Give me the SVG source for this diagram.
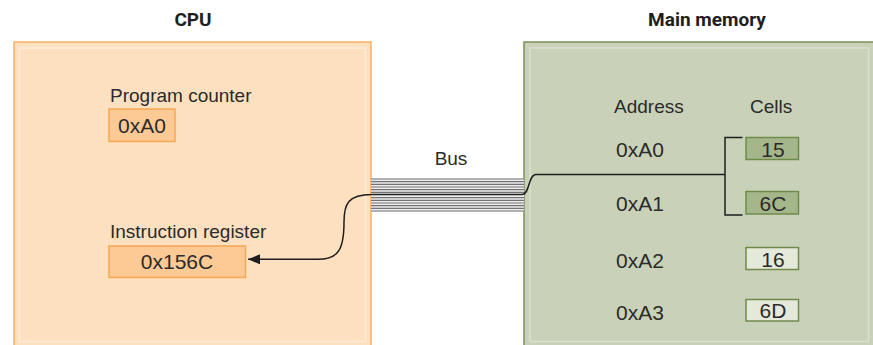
<svg xmlns="http://www.w3.org/2000/svg" width="873" height="345" viewBox="0 0 873 345">
  <defs>
    <style>
      .t { font-family: "Liberation Sans", Arial, sans-serif; font-size: 19px; fill: #2b2b2b; }
      .v { font-family: "Liberation Sans", Arial, sans-serif; font-size: 21px; fill: #2b2b2b; }
      .h { font-family: Roboto, "Liberation Sans", sans-serif; font-size: 19px; font-weight: bold; fill: #1e1e1e; }
      .reg { fill: #fdc994; stroke: #f6a752; stroke-width: 1.5; }
      .cellOn { fill: #a5b78a; stroke: #6f8a4a; stroke-width: 1.5; }
      .cellOff { fill: #e4e9da; stroke: #6f8a4a; stroke-width: 1.5; }
      .bus line { stroke: #727272; stroke-width: 1.2; }
      .wire { fill: none; stroke: #1e1e1e; stroke-width: 1.5; }
    </style>
    <marker id="arrow" viewBox="0 0 12 10" refX="12" refY="5" markerWidth="12" markerHeight="10" markerUnits="userSpaceOnUse" orient="auto">
      <path d="M0,0 L12,5 L0,10 Z" fill="#1e1e1e"/>
    </marker>
  </defs>

  <rect width="873" height="345" fill="#ffffff"/>

  <g id="cpu">
    <text class="h" x="193" y="26" text-anchor="middle">CPU</text>
    <rect x="14" y="42" width="357" height="306" fill="#fde0c0" stroke="#f8b064" stroke-width="1.5"/>
    <rect x="19.5" y="48" width="346" height="293.5" fill="none" stroke="#feecd8" stroke-width="1.5"/>
  </g>

  <g id="program-counter">
    <text class="t" x="110" y="102">Program counter</text>
    <rect class="reg" x="109" y="109" width="66" height="32.5"/>
    <text class="v" x="142" y="132.5" text-anchor="middle">0xA0</text>
  </g>

  <g id="instruction-register">
    <text class="t" x="110" y="238">Instruction register</text>
    <rect class="reg" x="109" y="246" width="136.5" height="31.5"/>
    <text class="v" x="177" y="268.5" text-anchor="middle">0x156C</text>
  </g>

  <g id="main-memory">
    <text class="h" x="707" y="26" text-anchor="middle">Main memory</text>
    <rect x="524" y="42" width="352" height="306" fill="#c9d2b8" stroke="#7b9157" stroke-width="1.5"/>
    <rect x="530" y="48" width="338.5" height="293.5" fill="none" stroke="#dbe1ce" stroke-width="1.5"/>
    <text class="t" x="614" y="113">Address</text>
    <text class="t" x="750" y="113">Cells</text>
  </g>

  <g id="cell-a0">
    <text class="v" x="616" y="156.5">0xA0</text>
    <rect class="cellOn" x="746" y="137.5" width="52.5" height="22"/>
    <text class="v" x="773" y="156.5" text-anchor="middle">15</text>
  </g>
  <g id="cell-a1">
    <text class="v" x="616" y="211">0xA1</text>
    <rect class="cellOn" x="746" y="191.5" width="52.5" height="22.5"/>
    <text class="v" x="773" y="210.5" text-anchor="middle">6C</text>
  </g>
  <g id="cell-a2">
    <text class="v" x="616" y="268">0xA2</text>
    <rect class="cellOff" x="746" y="247.5" width="52.5" height="22"/>
    <text class="v" x="773" y="266.5" text-anchor="middle">16</text>
  </g>
  <g id="cell-a3">
    <text class="v" x="616" y="320">0xA3</text>
    <rect class="cellOff" x="746" y="299.5" width="52.5" height="21.5"/>
    <text class="v" x="773" y="318" text-anchor="middle">6D</text>
  </g>

  <g id="bus">
    <text class="t" x="451" y="165" text-anchor="middle">Bus</text>
    <rect x="371" y="178.5" width="153" height="33" fill="#ececec"/>
    <g class="bus">
      <line x1="371" y1="179" x2="524" y2="179"/>
      <line x1="371" y1="181.7" x2="524" y2="181.7"/>
      <line x1="371" y1="184.3" x2="524" y2="184.3"/>
      <line x1="371" y1="187" x2="524" y2="187"/>
      <line x1="371" y1="189.7" x2="524" y2="189.7"/>
      <line x1="371" y1="192.3" x2="524" y2="192.3"/>
      <line x1="371" y1="197.7" x2="524" y2="197.7"/>
      <line x1="371" y1="200.3" x2="524" y2="200.3"/>
      <line x1="371" y1="203" x2="524" y2="203"/>
      <line x1="371" y1="205.7" x2="524" y2="205.7"/>
      <line x1="371" y1="208.3" x2="524" y2="208.3"/>
      <line x1="371" y1="211" x2="524" y2="211"/>
    </g>
  </g>

  <g id="connectors">
    <path class="wire" d="M725,174.5 H536 C528,174.5 530,194.5 522,194.5 H372 C348,194.5 344,204 344,222 C344,250 338,259.3 318,259.3 H248" marker-end="url(#arrow)"/>
    <path class="wire" d="M742.5,137.5 H725 V215 H742.5"/>
  </g>
</svg>
